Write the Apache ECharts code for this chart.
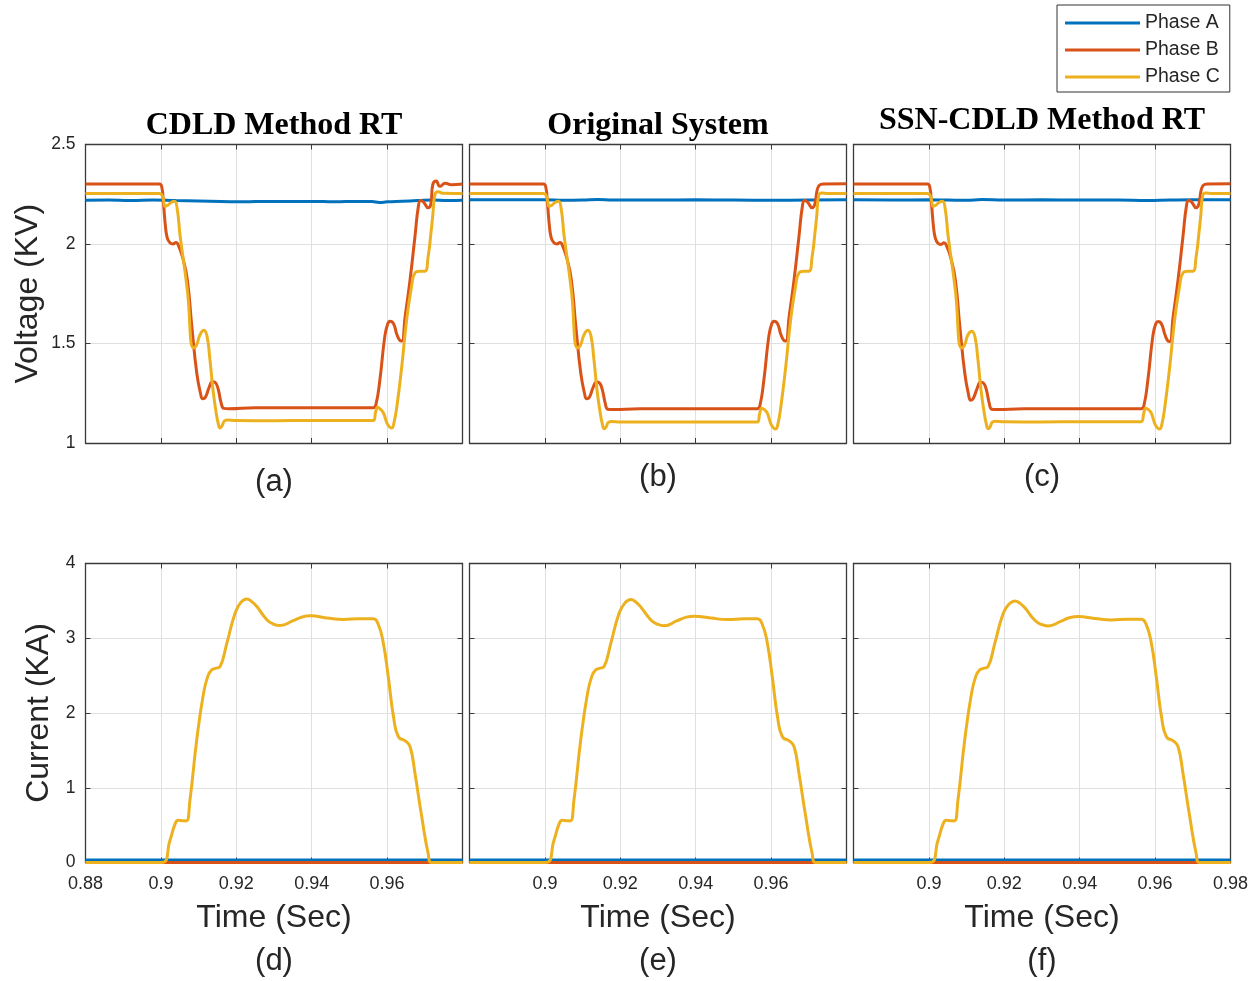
<!DOCTYPE html>
<html>
<head>
<meta charset="utf-8">
<script src="https://cdn.jsdelivr.net/npm/echarts@6/dist/echarts.min.js"></script>
<style>
  html, body { margin: 0; padding: 0; background: #ffffff; }
  #chart { width: 1256px; height: 981px; }
</style>
</head>
<body>
<div id="chart"></div>
<script>
// ---------------- Data: [time (s), value] ----------------
const phaseNames = ['Phase A', 'Phase B', 'Phase C'];
const panelTitles = ['CDLD Method RT', 'Original System', 'SSN-CDLD Method RT'];
const voltagePanelTags = ['(a)', '(b)', '(c)'];
const currentPanelTags = ['(d)', '(e)', '(f)'];

// tick labels
const voltTicks = ['1', '1.5', '2', '2.5'];
const currTicks = ['0', '1', '2', '3', '4'];
const timeTicksD = ['0.88', '0.9', '0.92', '0.94', '0.96', ''];
const timeTicksE = ['', '0.9', '0.92', '0.94', '0.96', ''];
const timeTicksF = ['', '0.9', '0.92', '0.94', '0.96', '0.98'];

// CDLD Method RT - voltage (kV)
const cdldVoltA = [[0.88,2.220],[0.886,2.221],[0.892,2.219],[0.898,2.221],[0.904,2.218],[0.91,2.216],[0.916,2.214],[0.922,2.212],[0.928,2.214],[0.934,2.213],[0.94,2.214],[0.946,2.212],[0.952,2.214],[0.956,2.213],[0.958,2.209],[0.96,2.212],[0.964,2.215],[0.968,2.218],[0.972,2.221],[0.976,2.219],[0.98,2.220]];
const cdldVoltB = [[0.88,2.302],[0.8996,2.302],[0.9002,2.29],[0.9007,2.2],[0.9012,2.09],[0.9017,2.03],[0.9024,2.006],[0.9032,2.0],[0.904,2.008],[0.9047,1.99],[0.9058,1.93],[0.907,1.822],[0.9082,1.587],[0.9095,1.353],[0.9105,1.25],[0.9111,1.222],[0.9118,1.23],[0.9128,1.28],[0.9137,1.308],[0.9144,1.305],[0.9152,1.27],[0.916,1.2],[0.9167,1.174],[0.918,1.172],[0.925,1.177],[0.935,1.177],[0.945,1.177],[0.9563,1.177],[0.957,1.19],[0.9581,1.319],[0.9594,1.537],[0.9602,1.6],[0.9608,1.612],[0.9617,1.6],[0.9626,1.545],[0.9634,1.515],[0.9639,1.512],[0.9648,1.637],[0.9661,1.822],[0.9674,2.039],[0.9683,2.19],[0.9689,2.219],[0.9697,2.21],[0.9709,2.182],[0.9716,2.2],[0.9721,2.297],[0.973,2.316],[0.974,2.29],[0.9754,2.305],[0.977,2.298],[0.98,2.302]];
const cdldVoltC = [[0.88,2.254],[0.8996,2.254],[0.9003,2.245],[0.9007,2.22],[0.9011,2.19],[0.9018,2.195],[0.9028,2.21],[0.9036,2.215],[0.9043,2.18],[0.9051,2.04],[0.907,1.771],[0.9086,1.478],[0.9094,1.49],[0.9104,1.545],[0.9114,1.567],[0.9122,1.54],[0.913,1.42],[0.9138,1.27],[0.9146,1.16],[0.9153,1.09],[0.9157,1.076],[0.9162,1.085],[0.9168,1.11],[0.9175,1.115],[0.92,1.113],[0.93,1.112],[0.94,1.113],[0.95,1.113],[0.9563,1.113],[0.957,1.16],[0.9575,1.18],[0.9582,1.17],[0.959,1.152],[0.9601,1.095],[0.9612,1.075],[0.9618,1.1],[0.9626,1.185],[0.9639,1.386],[0.9652,1.621],[0.9665,1.788],[0.9674,1.855],[0.9687,1.863],[0.97,1.863],[0.9709,1.939],[0.9716,2.05],[0.9721,2.14],[0.9727,2.249],[0.9735,2.262],[0.975,2.255],[0.98,2.254]];

// Original System - voltage (kV)
const origVoltA = [[0.88,2.222],[0.89,2.222],[0.9,2.222],[0.905,2.220],[0.91,2.221],[0.914,2.224],[0.918,2.221],[0.93,2.221],[0.94,2.222],[0.95,2.221],[0.96,2.220],[0.97,2.221],[0.98,2.222]];
const origVoltB = [[0.88,2.302],[0.8996,2.302],[0.9002,2.29],[0.9007,2.2],[0.9012,2.09],[0.9017,2.03],[0.9024,2.006],[0.9032,2.0],[0.904,2.008],[0.9047,1.99],[0.9058,1.93],[0.907,1.822],[0.9082,1.587],[0.9095,1.353],[0.9105,1.25],[0.9111,1.222],[0.9118,1.23],[0.9128,1.28],[0.9137,1.306],[0.9144,1.303],[0.9152,1.27],[0.916,1.2],[0.9167,1.17],[0.918,1.168],[0.925,1.172],[0.935,1.172],[0.945,1.172],[0.9563,1.172],[0.957,1.185],[0.9581,1.319],[0.9594,1.537],[0.9602,1.6],[0.9608,1.612],[0.9617,1.6],[0.9626,1.545],[0.9634,1.515],[0.9639,1.512],[0.9648,1.637],[0.9661,1.822],[0.9674,2.039],[0.9683,2.19],[0.9689,2.219],[0.9697,2.21],[0.9709,2.182],[0.9716,2.2],[0.9722,2.27],[0.9728,2.295],[0.9738,2.302],[0.98,2.303]];
const origVoltC = [[0.88,2.254],[0.8996,2.254],[0.9003,2.245],[0.9007,2.22],[0.9011,2.19],[0.9018,2.195],[0.9028,2.21],[0.9036,2.215],[0.9043,2.18],[0.9051,2.04],[0.907,1.771],[0.9086,1.478],[0.9094,1.49],[0.9104,1.545],[0.9114,1.567],[0.9122,1.54],[0.913,1.42],[0.9138,1.27],[0.9146,1.16],[0.9153,1.09],[0.9157,1.072],[0.9162,1.08],[0.9168,1.103],[0.9175,1.108],[0.92,1.106],[0.93,1.105],[0.94,1.106],[0.95,1.106],[0.9563,1.106],[0.957,1.15],[0.9575,1.175],[0.9582,1.168],[0.959,1.15],[0.9601,1.09],[0.9612,1.07],[0.9618,1.095],[0.9626,1.185],[0.9639,1.386],[0.9652,1.621],[0.9665,1.788],[0.9674,1.855],[0.9687,1.863],[0.97,1.863],[0.9709,1.939],[0.9716,2.05],[0.9721,2.14],[0.9727,2.249],[0.9735,2.256],[0.975,2.254],[0.98,2.254]];

// SSN-CDLD Method RT - voltage (kV)
const ssnVoltA = [[0.88,2.222],[0.89,2.221],[0.9,2.222],[0.905,2.221],[0.91,2.220],[0.914,2.223],[0.92,2.221],[0.93,2.222],[0.94,2.221],[0.95,2.221],[0.958,2.219],[0.964,2.221],[0.97,2.222],[0.98,2.222]];
const ssnVoltB = [[0.88,2.302],[0.8996,2.302],[0.9002,2.29],[0.9007,2.2],[0.9012,2.09],[0.9017,2.03],[0.9024,2.004],[0.9032,1.998],[0.904,2.006],[0.9047,1.99],[0.9058,1.93],[0.907,1.822],[0.9082,1.587],[0.9095,1.353],[0.9105,1.245],[0.9111,1.215],[0.9118,1.225],[0.9128,1.275],[0.9137,1.305],[0.9144,1.302],[0.9152,1.27],[0.916,1.2],[0.9167,1.17],[0.918,1.168],[0.925,1.172],[0.935,1.172],[0.945,1.172],[0.9563,1.172],[0.957,1.185],[0.9581,1.319],[0.9594,1.537],[0.9602,1.6],[0.9608,1.61],[0.9617,1.598],[0.9626,1.545],[0.9634,1.513],[0.9639,1.51],[0.9648,1.637],[0.9661,1.822],[0.9674,2.039],[0.9683,2.19],[0.9689,2.218],[0.9697,2.21],[0.9709,2.182],[0.9716,2.2],[0.9722,2.27],[0.9728,2.295],[0.9738,2.302],[0.98,2.303]];
const ssnVoltC = [[0.88,2.254],[0.8996,2.254],[0.9003,2.245],[0.9007,2.22],[0.9011,2.19],[0.9018,2.195],[0.9028,2.21],[0.9036,2.215],[0.9043,2.18],[0.9051,2.04],[0.907,1.771],[0.9086,1.478],[0.9094,1.49],[0.9104,1.545],[0.9114,1.562],[0.9122,1.535],[0.913,1.42],[0.9138,1.27],[0.9146,1.16],[0.9153,1.09],[0.9157,1.072],[0.9162,1.08],[0.9168,1.104],[0.9175,1.109],[0.92,1.107],[0.93,1.106],[0.94,1.107],[0.95,1.107],[0.9563,1.107],[0.957,1.15],[0.9575,1.175],[0.9582,1.168],[0.959,1.15],[0.9601,1.09],[0.9612,1.07],[0.9618,1.095],[0.9626,1.185],[0.9639,1.386],[0.9652,1.621],[0.9665,1.788],[0.9674,1.855],[0.9687,1.863],[0.97,1.863],[0.9709,1.939],[0.9716,2.05],[0.9721,2.14],[0.9727,2.249],[0.9735,2.256],[0.975,2.254],[0.98,2.254]];

// Current (kA): phases A and B stay near zero in every case
const currentA = [[0.88,0.035],[0.98,0.035]];
const currentB = [[0.88,0],[0.98,0]];
const cdldCurrC = [[0.88,0],[0.9002,0],[0.9024,0.295],[0.9038,0.52],[0.9046,0.564],[0.9056,0.56],[0.9067,0.555],[0.9077,0.832],[0.9095,1.638],[0.9113,2.26],[0.9125,2.5],[0.9135,2.577],[0.9147,2.6],[0.9157,2.62],[0.9175,2.935],[0.9197,3.338],[0.9212,3.48],[0.9228,3.526],[0.9241,3.49],[0.9254,3.427],[0.9281,3.248],[0.9298,3.19],[0.9316,3.17],[0.9351,3.235],[0.9375,3.285],[0.9396,3.30],[0.944,3.271],[0.9484,3.25],[0.9528,3.262],[0.9563,3.262],[0.9577,3.181],[0.959,2.935],[0.9603,2.488],[0.9617,1.951],[0.963,1.682],[0.9648,1.628],[0.9661,1.548],[0.9674,1.19],[0.9692,0.608],[0.9709,0.117],[0.9718,0],[0.98,0]];
const origCurrC = [[0.88,0],[0.9002,0],[0.9024,0.295],[0.9038,0.52],[0.9046,0.564],[0.9056,0.56],[0.9067,0.555],[0.9077,0.832],[0.9095,1.638],[0.9113,2.26],[0.9125,2.5],[0.9135,2.577],[0.9147,2.6],[0.9157,2.62],[0.9175,2.935],[0.9197,3.338],[0.9212,3.47],[0.9228,3.52],[0.9241,3.485],[0.9254,3.42],[0.9281,3.245],[0.9298,3.19],[0.9316,3.168],[0.9351,3.235],[0.9375,3.282],[0.9396,3.295],[0.944,3.27],[0.9484,3.25],[0.9528,3.26],[0.9563,3.26],[0.9577,3.181],[0.959,2.935],[0.9603,2.488],[0.9617,1.951],[0.963,1.682],[0.9648,1.628],[0.9661,1.548],[0.9674,1.19],[0.9692,0.608],[0.9709,0.117],[0.9718,0],[0.98,0]];
const ssnCurrC = [[0.88,0],[0.9002,0],[0.9024,0.295],[0.9038,0.52],[0.9046,0.564],[0.9056,0.56],[0.9067,0.555],[0.9077,0.832],[0.9095,1.638],[0.9113,2.26],[0.9125,2.5],[0.9135,2.577],[0.9147,2.6],[0.9157,2.62],[0.9175,2.935],[0.9197,3.33],[0.9212,3.455],[0.9228,3.5],[0.9241,3.47],[0.9254,3.41],[0.9281,3.24],[0.9298,3.185],[0.9316,3.165],[0.9351,3.23],[0.9375,3.278],[0.9396,3.29],[0.944,3.265],[0.9484,3.245],[0.9528,3.255],[0.9563,3.255],[0.9577,3.175],[0.959,2.935],[0.9603,2.488],[0.9617,1.951],[0.963,1.682],[0.9648,1.628],[0.9661,1.548],[0.9674,1.19],[0.9692,0.608],[0.9709,0.117],[0.9718,0],[0.98,0]];

// ---------------- Layout & style ----------------
const phaseColors = ['#0072BD', '#D95319', '#EDB120'];
const sansFont = "'Liberation Sans', Arial, Helvetica, sans-serif";
const serifFont = "'Liberation Serif', 'Times New Roman', serif";
const textColor = '#262626';
const boxColor = '#3a3a3a';
const gridLineColor = '#e0e0e0';

const gridLefts = [85.5, 469.5, 853.5];
const gridWidth = 377;
const rowTops = [144.5, 563.5];
const rowHeights = [298.5, 299];

const voltageSets = [
  [cdldVoltA, cdldVoltB, cdldVoltC],
  [origVoltA, origVoltB, origVoltC],
  [ssnVoltA, ssnVoltB, ssnVoltC]
];
const currentSets = [
  [currentA, currentB, cdldCurrC],
  [currentA, currentB, origCurrC],
  [currentA, currentB, ssnCurrC]
];
const timeTickSets = [timeTicksD, timeTicksE, timeTicksF];

const grids = [], xAxes = [], yAxes = [], series = [];

function tickLabelAt(labels, min, step) {
  return function (v) {
    const i = Math.round((v - min) / step);
    return labels[i] !== undefined ? labels[i] : '';
  };
}

// box edge of an axes: solid line plus inward ticks
const edgeLine = { show: true, onZero: false, lineStyle: { color: boxColor, width: 1.3 } };
const edgeTick = { show: true, inside: true, length: 5, lineStyle: { color: boxColor, width: 1 } };
const innerGrid = { show: true, showMinLine: false, showMaxLine: false, lineStyle: { color: gridLineColor, width: 1 } };

for (let row = 0; row < 2; row++) {
  for (let col = 0; col < 3; col++) {
    const g = row * 3 + col;
    grids.push({
      left: gridLefts[col], top: rowTops[row], width: gridWidth, height: rowHeights[row],
      show: false, containLabel: false
    });
    const isBottom = row === 1;
    const isLeft = col === 0;
    // main time axis (bottom)
    xAxes.push({
      type: 'value', gridIndex: g, min: 0.88, max: 0.98, interval: 0.02, position: 'bottom',
      axisLine: edgeLine, axisTick: edgeTick, splitLine: innerGrid,
      axisLabel: {
        show: isBottom, margin: 13, fontSize: 18, fontFamily: sansFont, color: textColor,
        showMinLabel: true, showMaxLabel: true, hideOverlap: false,
        formatter: tickLabelAt(timeTickSets[col], 0.88, 0.02)
      },
      name: isBottom ? 'Time (Sec)' : '', nameLocation: 'middle', nameGap: 40,
      nameTextStyle: { fontSize: 32, fontFamily: sansFont, color: textColor },
      z: 1
    });
    // mirrored time axis (top) closing the box
    xAxes.push({
      type: 'value', gridIndex: g, min: 0.88, max: 0.98, interval: 0.02, position: 'top',
      axisLine: edgeLine, axisTick: edgeTick, splitLine: { show: false }, axisLabel: { show: false },
      z: 1
    });
    const yMin = isBottom ? 0 : 1, yMax = isBottom ? 4 : 2.5, yStep = isBottom ? 1 : 0.5;
    yAxes.push({
      type: 'value', gridIndex: g, min: yMin, max: yMax, interval: yStep, position: 'left',
      axisLine: edgeLine, axisTick: edgeTick, splitLine: innerGrid,
      axisLabel: {
        show: isLeft, margin: 10, fontSize: 17.5, fontFamily: sansFont, color: textColor,
        showMinLabel: true, showMaxLabel: true,
        formatter: tickLabelAt(isBottom ? currTicks : voltTicks, yMin, yStep)
      },
      name: isLeft ? (isBottom ? 'Current (KA)' : 'Voltage (KV)') : '',
      nameLocation: 'middle', nameGap: isBottom ? 30 : 41,
      nameTextStyle: { fontSize: 32, fontFamily: sansFont, color: textColor },
      z: 1
    });
    yAxes.push({
      type: 'value', gridIndex: g, min: yMin, max: yMax, interval: yStep, position: 'right',
      axisLine: edgeLine, axisTick: edgeTick, splitLine: { show: false }, axisLabel: { show: false },
      z: 1
    });

    const sets = isBottom ? currentSets[col] : voltageSets[col];
    for (let p = 0; p < 3; p++) {
      series.push({
        type: 'line', name: phaseNames[p], xAxisIndex: 2 * g, yAxisIndex: 2 * g,
        data: sets[p], showSymbol: false, symbol: 'none', smooth: 0.5,
        lineStyle: { color: phaseColors[p], width: 3 }, itemStyle: { color: phaseColors[p] },
        clip: false, z: 2
      });
    }
  }
}

// Panel titles and sub-figure tags
const graphics = [];
const titleY = [126, 126, 121];
for (let col = 0; col < 3; col++) {
  const cx = gridLefts[col] + gridWidth / 2;
  graphics.push({
    type: 'text', x: cx, y: titleY[col],
    style: { text: panelTitles[col], font: 'bold 32px ' + serifFont, fill: '#000000', align: 'center', verticalAlign: 'middle' }
  });
  graphics.push({
    type: 'text', x: cx, y: col === 0 ? 482 : 477,
    style: { text: voltagePanelTags[col], font: '31px ' + sansFont, fill: textColor, align: 'center', verticalAlign: 'middle' }
  });
  graphics.push({
    type: 'text', x: cx, y: 961,
    style: { text: currentPanelTags[col], font: '31px ' + sansFont, fill: textColor, align: 'center', verticalAlign: 'middle' }
  });
}

const chart = echarts.init(document.getElementById('chart'), null, { renderer: 'canvas' });
chart.setOption({
  animation: false,
  backgroundColor: '#ffffff',
  legend: {
    data: phaseNames, orient: 'vertical', left: 1057, top: 5,
    padding: [8, 10, 5, 8], itemGap: 7, itemWidth: 75, itemHeight: 3, icon: 'rect',
    borderColor: '#333333', borderWidth: 1, backgroundColor: '#ffffff',
    textStyle: { fontSize: 19.5, lineHeight: 20, fontFamily: sansFont, color: textColor }
  },
  grid: grids,
  xAxis: xAxes,
  yAxis: yAxes,
  series: series,
  graphic: graphics
});
</script>
</body>
</html>
